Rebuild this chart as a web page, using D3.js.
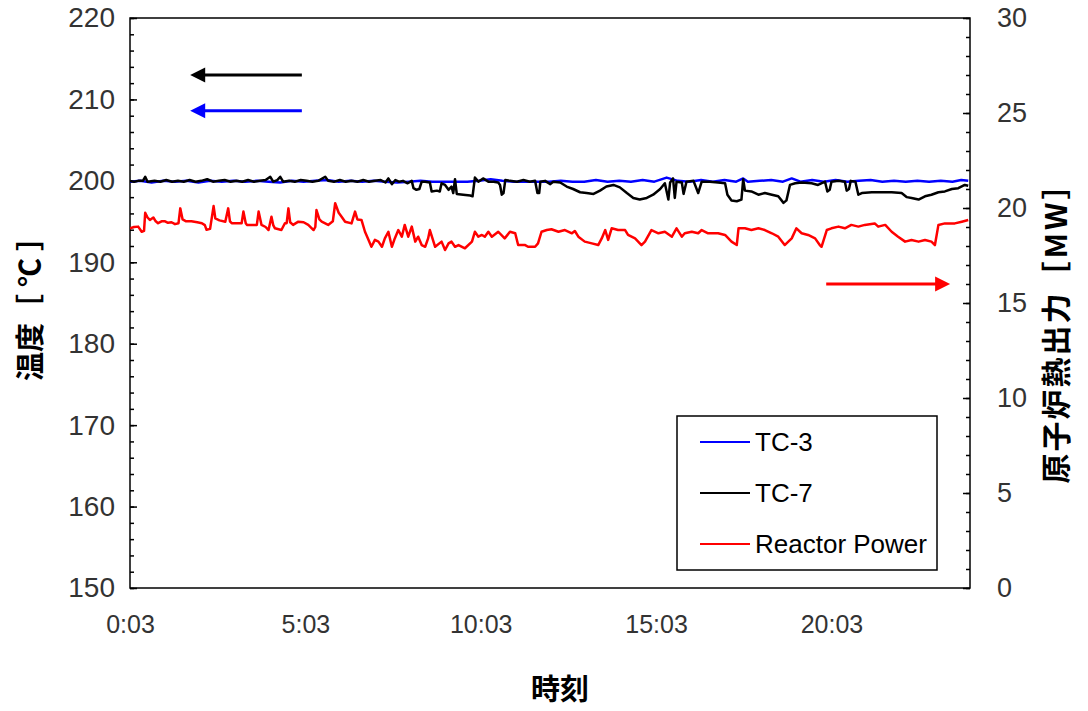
<!DOCTYPE html>
<html>
<head>
<meta charset="utf-8">
<script src="https://cdn.jsdelivr.net/npm/d3@7"></script>
<style>
  body { margin: 0; background: #fff; }
  svg { display: block; }
</style>
</head>
<body>
<svg id="chart" width="1088" height="711"></svg>
<script>
// Time of day in minutes after midnight
const timeTicks = [3, 303, 603, 903, 1203];
const tempTicks = [150, 160, 170, 180, 190, 200, 210, 220];
const powerTicks = [0, 5, 10, 15, 20, 25, 30];

// TC-3 temperature [°C] : [minute, value]
const tc3 = [
  [3,199.9],[20,200.0],[40,199.8],[60,200.0],[80,199.9],[100,200.0],[120,199.8],[140,200.0],
  [160,199.9],[180,200.0],[200,199.9],[220,200.0],[240,199.9],[260,199.8],[280,200.0],[300,199.9],
  [320,200.0],[340,200.1],[360,199.9],[380,200.0],[400,199.9],[420,200.0],[440,199.9],[460,199.8],
  [480,199.9],[500,200.0],[520,199.9],[540,199.9],[560,199.9],[580,199.9],[600,200.0],[620,200.2],
  [640,200.0],[660,199.9],[680,199.9],[700,199.9],[720,199.9],[740,200.0],[760,199.9],[780,199.9],
  [800,200.1],[820,199.9],[840,200.0],[860,199.9],[880,200.1],[900,199.9],[921,200.4],[940,200.0],
  [960,199.9],[980,200.1],[1000,199.9],[1020,200.1],[1040,199.9],[1052,200.3],[1060,199.9],[1080,200.0],
  [1100,200.1],[1120,199.9],[1135,200.3],[1150,199.9],[1170,200.1],[1190,199.9],[1210,200.1],[1230,199.9],
  [1250,200.0],[1270,200.1],[1290,199.9],[1310,200.0],[1330,199.9],[1350,200.0],[1370,199.9],[1390,200.0],
  [1410,199.9],[1425,200.1],[1437,200.0]
];

// TC-7 temperature [°C]
const tc7 = [
  [3,200.0],[10,199.9],[17,200.0],[25,200.0],[29,200.5],[33,199.9],[45,200.0],[55,199.9],
  [65,200.1],[75,199.9],[85,200.0],[95,199.9],[105,200.1],[115,199.9],[125,200.0],[135,200.2],
  [145,199.9],[155,200.0],[165,200.1],[175,199.9],[185,200.0],[195,199.9],[205,200.1],[215,199.9],
  [225,200.0],[235,200.1],[243,200.5],[248,199.9],[255,200.1],[260,200.5],[265,199.9],[275,200.0],
  [285,199.9],[295,200.1],[305,200.0],[315,199.9],[325,200.0],[337,200.5],[342,200.0],[352,199.9],
  [362,200.1],[372,199.9],[382,200.0],[392,199.9],[402,200.1],[412,199.9],[422,200.0],[432,200.1],
  [440,199.8],[445,200.3],[451,199.6],[457,200.1],[463,199.9],[470,200.0],[478,199.7],[485,200.0],
  [488,199.1],[493,198.9],[498,199.0],[502,199.9],[508,199.9],[516,199.8],[519,198.7],[528,198.8],
  [533,198.7],[536,199.7],[542,199.5],[548,198.9],[553,199.3],[556,198.5],[559,200.2],[562,198.4],
  [573,198.3],[585,198.2],[589,198.1],[593,200.4],[599,199.9],[607,200.3],[616,199.9],[625,199.9],
  [633,199.8],[636,199.5],[639,198.3],[642,198.5],[645,200.1],[653,200.0],[665,199.9],[676,200.1],
  [687,199.9],[696,200.0],[700,198.5],[703,198.5],[705,199.9],[713,200.0],[722,199.6],[727,199.9],
  [739,199.8],[750,199.3],[761,199.0],[773,198.6],[784,198.5],[796,198.4],[807,198.8],[818,199.3],
  [830,199.5],[841,199.2],[853,198.5],[864,197.9],[875,197.7],[887,197.9],[898,198.3],[910,199.0],
  [918,199.7],[924,197.7],[927,199.8],[932,200.3],[935,197.9],[938,199.9],[947,199.8],[950,198.4],
  [955,199.9],[967,200.0],[975,198.5],[981,199.9],[995,199.9],[1009,199.8],[1021,199.7],[1025,198.3],
  [1032,197.6],[1041,197.5],[1049,197.7],[1052,200.2],[1055,198.8],[1066,198.7],[1078,198.3],[1089,198.5],
  [1101,198.3],[1112,198.1],[1121,197.3],[1126,197.6],[1132,199.5],[1141,199.7],[1152,199.8],[1169,199.7],
  [1180,199.5],[1192,199.9],[1196,198.7],[1200,198.9],[1203,199.9],[1215,200.0],[1226,199.9],[1229,198.8],
  [1233,199.0],[1236,200.0],[1244,199.9],[1249,198.3],[1255,198.5],[1272,198.6],[1289,198.6],[1306,198.6],
  [1323,198.5],[1332,198.0],[1340,197.9],[1352,197.7],[1363,198.1],[1374,198.3],[1386,198.6],[1397,198.7],
  [1409,199.0],[1420,199.1],[1431,199.5],[1437,199.4]
];

// Reactor thermal power [MW]
const reactorPower = [
  [3,18.93],[10,19.00],[17,19.02],[23,18.75],[27,18.80],[29,19.75],[33,19.50],[37,19.37],
  [43,19.50],[47,19.30],[51,19.20],[57,19.30],[63,19.30],[68,19.22],[74,19.25],[80,19.15],
  [86,19.20],[89,19.98],[93,19.40],[99,19.30],[108,19.30],[118,19.25],[126,19.20],[131,19.10],
  [134,18.85],[140,18.90],[146,20.10],[149,19.45],[156,19.35],[166,19.28],[171,19.98],[174,19.30],
  [177,19.20],[190,19.20],[194,19.20],[197,19.81],[201,19.20],[203,19.11],[215,19.10],[220,19.11],
  [223,19.81],[228,19.11],[235,19.00],[240,18.84],[245,19.54],[248,19.10],[251,18.93],[262,18.84],
  [268,19.20],[271,19.20],[274,19.98],[277,19.25],[282,19.11],[291,19.28],[300,19.25],[308,19.11],
  [317,18.84],[320,19.00],[322,19.89],[327,19.40],[331,19.28],[342,19.11],[350,19.30],[354,20.25],
  [360,19.75],[365,19.54],[371,19.28],[382,19.19],[388,19.81],[392,19.40],[399,19.37],[405,18.75],
  [410,18.40],[416,17.96],[422,18.32],[428,18.23],[434,17.96],[439,18.40],[445,18.75],[451,17.96],
  [456,18.40],[462,18.84],[468,18.49],[473,19.11],[479,18.49],[485,19.02],[491,18.23],[496,18.49],
  [502,18.05],[508,17.96],[513,18.40],[516,18.84],[525,17.96],[536,18.23],[542,17.79],[548,18.14],
  [553,18.23],[559,17.96],[565,18.05],[576,17.88],[588,18.23],[593,18.75],[599,18.49],[605,18.58],
  [610,18.49],[616,18.75],[622,18.49],[633,18.75],[644,18.40],[653,18.75],[662,18.67],[667,18.05],
  [679,18.05],[684,17.96],[696,17.96],[701,18.14],[707,18.75],[716,18.84],[724,18.88],[736,18.75],
  [747,18.84],[759,18.67],[764,18.79],[770,18.49],[781,18.23],[793,18.14],[804,18.05],[810,18.40],
  [816,18.84],[821,18.32],[827,18.93],[838,18.84],[850,18.84],[855,18.58],[867,18.40],[878,18.05],
  [884,18.23],[895,18.84],[907,18.67],[918,18.75],[930,18.49],[938,18.93],[947,18.49],[952,18.67],
  [964,18.75],[975,18.67],[981,18.84],[992,18.67],[1009,18.67],[1021,18.58],[1032,18.23],[1041,18.05],
  [1044,18.93],[1055,18.93],[1066,18.84],[1078,18.93],[1089,18.84],[1101,18.67],[1112,18.49],[1123,18.05],
  [1135,18.40],[1143,18.93],[1152,18.67],[1163,18.58],[1175,18.40],[1183,18.05],[1186,17.96],[1195,18.84],
  [1203,18.93],[1215,19.02],[1226,18.93],[1237,19.11],[1249,19.02],[1260,19.11],[1277,19.19],[1283,19.02],
  [1295,19.11],[1306,18.75],[1317,18.49],[1329,18.23],[1340,18.32],[1352,18.23],[1363,18.32],[1374,18.23],
  [1380,18.05],[1386,19.11],[1397,19.19],[1414,19.19],[1426,19.28],[1437,19.37]
];

const legendLabels = ["TC-3", "TC-7", "Reactor Power"];
const seriesColors = ["#0000ff", "#000000", "#ff0000"];

// Axis-direction arrows: [start minute, end minute, level on its own axis]
const arrowTC7 = [297, 106, 213.0];
const arrowTC3 = [297, 106, 208.6];
const arrowPower = [1194, 1406, 16.0];

const svg = d3.select("#chart");
const plot = { left: 130, top: 18, right: 970, bottom: 588 };

const x = d3.scaleLinear().domain([3, 1440]).range([plot.left, plot.right]);
const yT = d3.scaleLinear().domain([150, 220]).range([plot.bottom, plot.top]);
const yP = d3.scaleLinear().domain([0, 30]).range([plot.bottom, plot.top]);

const latin = "'Liberation Sans', Arial, sans-serif";
const cjk = "'Noto Sans CJK JP', 'Noto Sans CJK SC', sans-serif";
const tickColor = "#333";

const fmtTime = m => `${Math.floor(m / 60)}:${String(m % 60).padStart(2, "0")}`;

// Minor ticks (inside the frame)
const tMinor = d3.range(150, 220.001, 2);
const pMinor = d3.range(0, 30.001, 1);

const gL = svg.append("g").attr("transform", `translate(${plot.left},0)`);
gL.call(d3.axisLeft(yT).tickValues(tMinor).tickSize(-4).tickFormat(""));
gL.select(".domain").remove();
const gL2 = svg.append("g").attr("transform", `translate(${plot.left},0)`);
gL2.call(d3.axisLeft(yT).tickValues(tempTicks).tickSize(-7).tickPadding(15));
gL2.select(".domain").remove();

const gR = svg.append("g").attr("transform", `translate(${plot.right},0)`);
gR.call(d3.axisRight(yP).tickValues(pMinor).tickSize(-4).tickFormat(""));
gR.select(".domain").remove();
const gR2 = svg.append("g").attr("transform", `translate(${plot.right},0)`);
gR2.call(d3.axisRight(yP).tickValues(powerTicks).tickSize(-7).tickPadding(27));
gR2.select(".domain").remove();

const gB = svg.append("g").attr("transform", `translate(0,${plot.bottom})`);
gB.call(d3.axisBottom(x).tickValues(timeTicks).tickSize(0).tickPadding(27).tickFormat(fmtTime));
gB.select(".domain").remove();

svg.selectAll(".tick line").attr("stroke", "#000").attr("stroke-width", 1.5);
svg.selectAll(".tick text")
  .attr("font-family", latin).attr("font-size", 28).attr("fill", tickColor);
gR2.selectAll(".tick text").attr("font-size", 27);
gB.selectAll(".tick text").attr("font-size", 25);

// Frame
svg.append("rect")
  .attr("x", plot.left).attr("y", plot.top)
  .attr("width", plot.right - plot.left).attr("height", plot.bottom - plot.top)
  .attr("fill", "none").attr("stroke", "#000").attr("stroke-width", 1.5);

// Data lines
svg.append("clipPath").attr("id", "plotClip").append("rect")
  .attr("x", plot.left).attr("y", plot.top)
  .attr("width", plot.right - plot.left).attr("height", plot.bottom - plot.top);

const lineT = d3.line().x(d => x(d[0])).y(d => yT(d[1]));
const lineP = d3.line().x(d => x(d[0])).y(d => yP(d[1]));
const lines = svg.append("g").attr("clip-path", "url(#plotClip)")
  .attr("fill", "none").attr("stroke-width", 2.5).attr("stroke-linejoin", "round");
lines.append("path").datum(reactorPower).attr("d", lineP).attr("stroke", seriesColors[2]);
lines.append("path").datum(tc3).attr("d", lineT).attr("stroke", seriesColors[0]);
lines.append("path").datum(tc7).attr("d", lineT).attr("stroke", seriesColors[1]);

// Arrows pointing to the axis each series belongs to
function arrow(spec, yScale, color) {
  const x0 = x(spec[0]), x1 = x(spec[1]), yy = yScale(spec[2]);
  const dir = Math.sign(x1 - x0);
  const head = 15, half = 7.5;
  svg.append("line")
    .attr("x1", x0).attr("y1", yy).attr("x2", x1 - dir * head * 0.6).attr("y2", yy)
    .attr("stroke", color).attr("stroke-width", 3);
  svg.append("path")
    .attr("d", `M${x1},${yy} L${x1 - dir * head},${yy - half} L${x1 - dir * head},${yy + half} Z`)
    .attr("fill", color);
}
arrow(arrowTC7, yT, seriesColors[1]);
arrow(arrowTC3, yT, seriesColors[0]);
arrow(arrowPower, yP, seriesColors[2]);

// Legend
const lg = svg.append("g");
lg.append("rect").attr("x", 677).attr("y", 416).attr("width", 260).attr("height", 154)
  .attr("fill", "#fff").attr("stroke", "#000").attr("stroke-width", 1.5);
legendLabels.forEach((name, i) => {
  const ly = 442 + i * 51;
  lg.append("line").attr("x1", 700).attr("x2", 750).attr("y1", ly).attr("y2", ly)
    .attr("stroke", seriesColors[i]).attr("stroke-width", 2);
  lg.append("text").attr("x", 755).attr("y", ly).attr("dy", "0.35em")
    .attr("font-family", latin).attr("font-size", 26).attr("fill", "#000").text(name);
});

// Axis titles (the bracketed unit is set a little looser)
function axisTitle(cx, cy, main, unit, size, mainSpacing, unitSpacing) {
  const t = svg.append("text")
    .attr("transform", `translate(${cx},${cy}) rotate(-90)`)
    .attr("text-anchor", "middle").attr("dy", "0.35em")
    .attr("font-family", cjk).attr("font-weight", "bold").attr("font-size", size);
  t.append("tspan").attr("letter-spacing", mainSpacing).text(main);
  t.append("tspan").attr("letter-spacing", unitSpacing).text(unit);
}
axisTitle(31, 298, "温度", "［℃］", 29, 0, 7);
axisTitle(1056, 325, "原子炉熱出力", "［MW］", 30, 2, 3);

svg.append("text")
  .attr("x", 560).attr("y", 690).attr("text-anchor", "middle").attr("dy", "0.35em")
  .attr("font-family", cjk).attr("font-weight", "bold").attr("font-size", 29)
  .text("時刻");
</script>
</body>
</html>
